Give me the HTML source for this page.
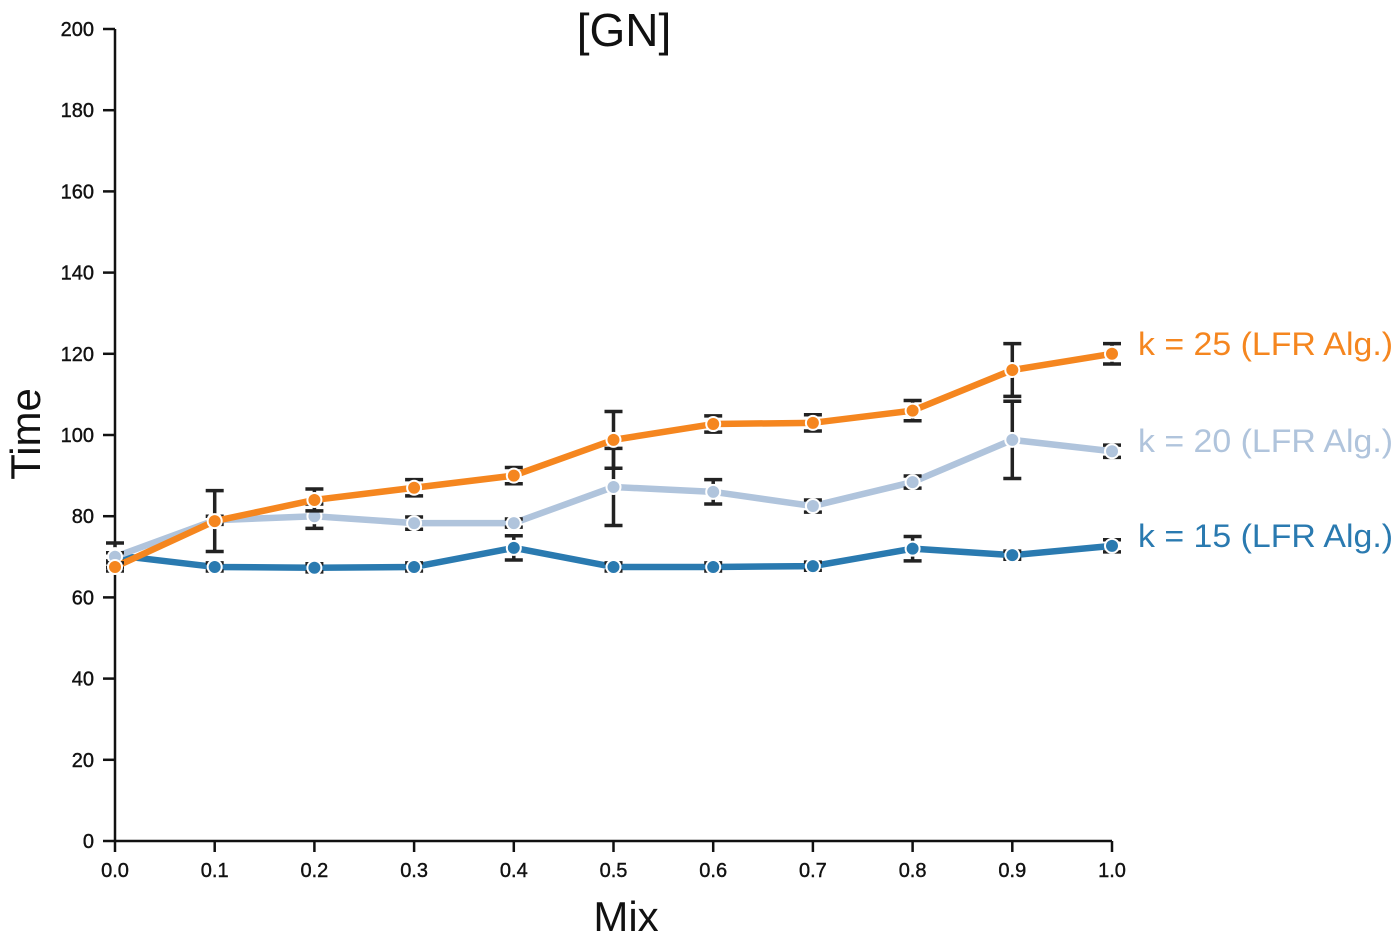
<!DOCTYPE html>
<html><head><meta charset="utf-8"><style>
body{margin:0;background:#fff;width:1400px;height:937px;overflow:hidden}
svg{font-family:"Liberation Sans","DejaVu Sans",sans-serif}
</style></head><body>
<svg id="chart" width="1400" height="937" xmlns="http://www.w3.org/2000/svg">
<text x="624" y="46" font-size="46" text-anchor="middle" fill="#111">[GN]</text>
<text x="626" y="931" font-size="42" text-anchor="middle" fill="#111">Mix</text>
<text transform="translate(40,434) rotate(-90)" font-size="42" text-anchor="middle" fill="#111">Time</text>
<g id="axes"></g><g id="series"></g>
</svg>
<script>
const xValues=[0,0.1,0.2,0.3,0.4,0.5,0.6,0.7,0.8,0.9,1.0];
const xTickLabels=["0.0","0.1","0.2","0.3","0.4","0.5","0.6","0.7","0.8","0.9","1.0"];
const yTicks=[0,20,40,60,80,100,120,140,160,180,200];
const seriesNames=["k = 15 (LFR Alg.)","k = 20 (LFR Alg.)","k = 25 (LFR Alg.)"];
const k15=[70.4,67.5,67.3,67.5,72.2,67.5,67.5,67.7,72,70.4,72.7];
const k15Err=[3,1,1,1,3,1,1,1,3,1,1.5];
const k20=[70,79,80,78.3,78.3,87.2,86,82.5,88.4,98.8,96];
const k20Err=[1,1,3,1.5,1,9.5,3,1.5,1.5,9.5,1.5];
const k25=[67.5,78.8,84,87,90,98.8,102.7,103,106,116,120];
const k25Err=[1,7.5,2.7,2,2,7,2,2,2.5,6.5,2.5];
const NS="http://www.w3.org/2000/svg";
const X=v=>115+v*997, Y=v=>841-v*4.06;
function mk(tag,attrs,parent){const e=document.createElementNS(NS,tag);for(const k in attrs)e.setAttribute(k,attrs[k]);parent.appendChild(e);return e;}
const ax=document.getElementById('axes');
let e=mk('line',{x1:115,y1:Y(200),x2:115,y2:841,stroke:'#111','stroke-width':2.5},ax);


e=mk('line',{x1:115,y1:841,x2:1112,y2:841,stroke:'#111','stroke-width':2.5},ax);


yTicks.forEach(t=>{
 const l=mk('line',{x1:103,x2:115,y1:Y(t),y2:Y(t),stroke:'#111','stroke-width':2.5},ax);
 
 
 const tx=mk('text',{x:94,y:Y(t)+7,'font-size':20,'text-anchor':'end',fill:'#111',stroke:'#111','stroke-width':0.4},ax);tx.textContent=t;
 
 
});
xValues.forEach((v,i)=>{
 const l=mk('line',{x1:X(v),x2:X(v),y1:841,y2:852,stroke:'#111','stroke-width':2.5},ax);
 
 
 const tx=mk('text',{x:X(v),y:877,'font-size':20,'text-anchor':'middle',fill:'#111',stroke:'#111','stroke-width':0.4},ax);tx.textContent=xTickLabels[i];
 
 
});
const sg=document.getElementById('series');
const all=[[k15,k15Err,'#2a7ab0'],[k20,k20Err,'#b0c4dc'],[k25,k25Err,'#f5861f']];
all.forEach(([vals,errs,col],si)=>{
 const g=mk('g',{},sg);
 
 
 const p=mk('path',{d:vals.map((v,i)=>(i?'L':'M')+X(xValues[i])+','+Y(v)).join(''),fill:'none',stroke:col,'stroke-width':6.5,'stroke-linejoin':'round'},g);
 
 
 vals.forEach((v,i)=>{
  const x=X(xValues[i]),t=Y(v+errs[i]),b=Y(v-errs[i]);
  const eb=mk('path',{d:`M${x-9},${t}H${x+9}M${x},${t}V${b}M${x-9},${b}H${x+9}`,stroke:'#222','stroke-width':3.5,fill:'none'},g);
  
  
 });
 vals.forEach((v,i)=>{
  const c=mk('circle',{cx:X(xValues[i]),cy:Y(v),r:7,fill:col,stroke:'#fff','stroke-width':2},g);
  
  
 });
 const lt=mk('text',{x:1138,y:Y(vals[vals.length-1])+1,'font-size':32,fill:col,textLength:255,lengthAdjust:'spacingAndGlyphs'},g);
 lt.textContent=seriesNames[si];
 
 
});
</script>
</body></html>
